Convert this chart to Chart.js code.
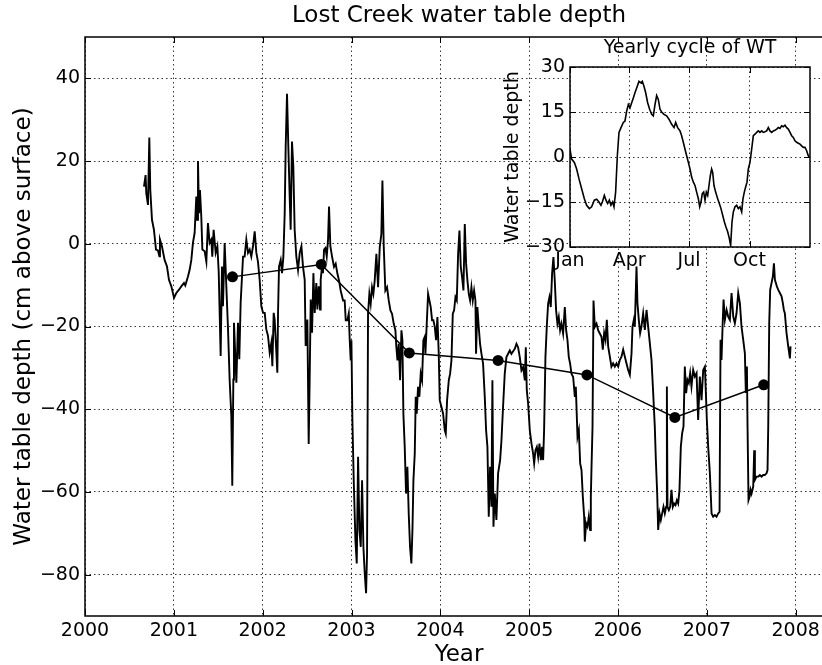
<!DOCTYPE html>
<html>
<head>
<meta charset="utf-8">
<script src="https://cdn.jsdelivr.net/npm/chart.js@4.4.1/dist/chart.umd.min.js"></script>
<style>
  html, body { margin: 0; padding: 0; background: #fff; }
  #wrap { position: relative; width: 822px; height: 665px; overflow: hidden; background: #fff; }
  #main { position: absolute; left: 0; top: 0; }
  #inset { position: absolute; left: 490px; top: 30px; }
</style>
</head>
<body>
<div id="wrap">
  <canvas id="main" width="845" height="665"></canvas>
  <canvas id="inset" width="330" height="250"></canvas>
</div>
<script>
// Observed water table depth, cm above surface, against decimal year
const obsYear = [
  2000.664, 2000.682, 2000.690, 2000.709, 2000.724, 2000.735, 2000.754, 2000.776, 2000.799, 2000.821,
  2000.838, 2000.844, 2000.866, 2000.896, 2000.923, 2000.945, 2000.972, 2001.002, 2001.028, 2001.058,
  2001.084, 2001.114, 2001.129, 2001.159, 2001.178, 2001.197, 2001.215, 2001.234, 2001.253, 2001.261,
  2001.272, 2001.283, 2001.294, 2001.309, 2001.321, 2001.347, 2001.366, 2001.384, 2001.403, 2001.422,
  2001.433, 2001.448, 2001.471, 2001.490, 2001.505, 2001.527, 2001.542, 2001.553, 2001.572, 2001.591,
  2001.610, 2001.628, 2001.647, 2001.658, 2001.670, 2001.677, 2001.704, 2001.722, 2001.737, 2001.752,
  2001.779, 2001.797, 2001.816, 2001.835, 2001.854, 2001.872, 2001.891, 2001.910, 2001.929, 2001.947,
  2001.966, 2001.985, 2002.004, 2002.023, 2002.041, 2002.060, 2002.079, 2002.098, 2002.109, 2002.124,
  2002.135, 2002.154, 2002.165, 2002.173, 2002.184, 2002.203, 2002.218, 2002.233, 2002.248, 2002.259,
  2002.274, 2002.289, 2002.304, 2002.315, 2002.330, 2002.345, 2002.360, 2002.379, 2002.398, 2002.417,
  2002.436, 2002.454, 2002.473, 2002.484, 2002.503, 2002.518, 2002.529, 2002.541, 2002.556, 2002.571,
  2002.586, 2002.604, 2002.616, 2002.631, 2002.646, 2002.653, 2002.668, 2002.679, 2002.691, 2002.706,
  2002.721, 2002.736, 2002.747, 2002.762, 2002.781, 2002.803, 2002.822, 2002.841, 2002.860, 2002.878,
  2002.905, 2002.923, 2002.935, 2002.954, 2002.969, 2002.980, 2002.991, 2002.999, 2003.010, 2003.025,
  2003.044, 2003.059, 2003.074, 2003.089, 2003.104, 2003.119, 2003.134, 2003.149, 2003.164, 2003.175,
  2003.186, 2003.201, 2003.216, 2003.231, 2003.246, 2003.261, 2003.280, 2003.299, 2003.318, 2003.336,
  2003.348, 2003.363, 2003.381, 2003.400, 2003.419, 2003.438, 2003.456, 2003.475, 2003.494, 2003.505,
  2003.517, 2003.532, 2003.547, 2003.562, 2003.573, 2003.584, 2003.599, 2003.614, 2003.629, 2003.644,
  2003.659, 2003.674, 2003.686, 2003.697, 2003.712, 2003.723, 2003.734, 2003.749, 2003.764, 2003.779,
  2003.794, 2003.809, 2003.824, 2003.832, 2003.847, 2003.862, 2003.877, 2003.892, 2003.907, 2003.922,
  2003.937, 2003.952, 2003.967, 2003.982, 2003.993, 2004.012, 2004.031, 2004.050, 2004.061, 2004.076,
  2004.095, 2004.110, 2004.125, 2004.140, 2004.155, 2004.170, 2004.185, 2004.200, 2004.215, 2004.230,
  2004.245, 2004.260, 2004.275, 2004.290, 2004.305, 2004.320, 2004.335, 2004.350, 2004.365, 2004.380,
  2004.395, 2004.402, 2004.417, 2004.432, 2004.447, 2004.463, 2004.481, 2004.500, 2004.515, 2004.530,
  2004.545, 2004.560, 2004.575, 2004.586, 2004.598, 2004.613, 2004.631, 2004.650, 2004.673, 2004.688,
  2004.706, 2004.725, 2004.744, 2004.763, 2004.782, 2004.800, 2004.838, 2004.857, 2004.875, 2004.894,
  2004.913, 2004.932, 2004.951, 2004.962, 2004.973, 2004.988, 2005.007, 2005.026, 2005.044, 2005.056,
  2005.071, 2005.086, 2005.101, 2005.116, 2005.131, 2005.146, 2005.157, 2005.168, 2005.183, 2005.198,
  2005.213, 2005.228, 2005.243, 2005.258, 2005.273, 2005.288, 2005.303, 2005.318, 2005.333, 2005.348,
  2005.363, 2005.382, 2005.401, 2005.416, 2005.431, 2005.446, 2005.461, 2005.476, 2005.495, 2005.514,
  2005.525, 2005.544, 2005.559, 2005.574, 2005.589, 2005.604, 2005.619, 2005.626, 2005.641, 2005.656,
  2005.671, 2005.686, 2005.694, 2005.701, 2005.713, 2005.724, 2005.739, 2005.758, 2005.776, 2005.795,
  2005.814, 2005.829, 2005.844, 2005.859, 2005.874, 2005.889, 2005.908, 2005.926, 2005.945, 2005.964,
  2005.983, 2006.002, 2006.020, 2006.039, 2006.058, 2006.077, 2006.095, 2006.114, 2006.133, 2006.152,
  2006.163, 2006.178, 2006.189, 2006.208, 2006.219, 2006.234, 2006.249, 2006.264, 2006.283, 2006.302,
  2006.321, 2006.339, 2006.358, 2006.377, 2006.396, 2006.414, 2006.426, 2006.441, 2006.452, 2006.467,
  2006.482, 2006.497, 2006.512, 2006.527, 2006.542, 2006.550, 2006.557, 2006.572, 2006.587, 2006.602,
  2006.617, 2006.632, 2006.647, 2006.662, 2006.677, 2006.692, 2006.707, 2006.722, 2006.737, 2006.752,
  2006.767, 2006.782, 2006.797, 2006.812, 2006.827, 2006.846, 2006.865, 2006.884, 2006.902, 2006.921,
  2006.940, 2006.959, 2006.978, 2006.989, 2007.000, 2007.015, 2007.034, 2007.053, 2007.071, 2007.090,
  2007.109, 2007.128, 2007.143, 2007.154, 2007.165, 2007.177, 2007.188, 2007.203, 2007.222, 2007.240,
  2007.259, 2007.278, 2007.297, 2007.315, 2007.334, 2007.353, 2007.372, 2007.390, 2007.409, 2007.428,
  2007.439, 2007.451, 2007.458, 2007.469, 2007.481, 2007.492, 2007.503, 2007.522, 2007.533, 2007.541,
  2007.559, 2007.578, 2007.597, 2007.616, 2007.634, 2007.653, 2007.672, 2007.683, 2007.691, 2007.702,
  2007.713, 2007.728, 2007.743, 2007.755, 2007.766, 2007.777, 2007.788, 2007.803, 2007.822, 2007.841,
  2007.856, 2007.867, 2007.878, 2007.897, 2007.916, 2007.935, 2007.942
];
const obsDepth = [
  13.8, 16.6, 12.2, 9.4, 25.7, 13.0, 5.8, 3.4, -1.4, -1.6,
  -3.0, 1.0, -0.6, -3.9, -5.5, -8.7, -10.3, -13.1, -11.9, -11.1,
  -10.3, -9.5, -10.1, -7.9, -6.3, -3.9, 0.2, 2.6, 11.4, 5.8,
  20.0, 7.4, 13.0, 6.6, -1.4, -1.8, -4.3, 5.0, 0.2, 1.0,
  -3.1, 3.4, -2.2, -0.6, -6.7, -27.1, -5.5, -15.1, 0.2, -10.3,
  -20.7, -32.8, -41.6, -58.5, -32.8, -19.1, -33.6, -19.1, -27.9, -14.3,
  -3.1, -3.1, 1.0, -2.2, -1.4, -3.1, -0.6, 3.0, -2.2, -4.3,
  -8.7, -15.1, -16.7, -16.7, -20.7, -22.3, -26.3, -23.9, -29.6, -16.7,
  -18.3, -26.3, -31.2, -16.7, -5.5, -3.9, -7.1, -3.1, 7.4, 23.4,
  36.3, 23.4, 11.4, 3.4, 24.7, 18.6, 3.4, -3.1, -6.3, -2.2,
  -0.6, -5.5, -8.7, -24.7, -18.3, -48.4, -32.8, -13.5, -21.5, -7.1,
  -16.7, -9.5, -15.9, -10.3, -15.9, -8.7, -5.5, -7.1, -1.4, -1.0,
  -3.1, 1.0, 9.0, -0.6, -3.1, -5.6, -4.8, -7.2, -8.9, -11.3,
  -13.7, -13.7, -18.5, -18.5, -16.9, -23.3, -28.2, -23.3, -42.7, -57.2,
  -71.6, -77.3, -51.5, -69.2, -73.3, -57.2, -73.3, -79.7, -84.5, -74.9,
  -16.9, -12.1, -14.5, -10.5, -12.1, -8.9, -2.4, -10.5, -0.8, 2.4,
  15.3, -0.8, -11.3, -10.5, -13.7, -16.1, -16.9, -19.3, -20.9, -25.0,
  -28.2, -24.2, -33.0, -20.9, -23.3, -41.1, -49.1, -60.4, -53.9, -65.2,
  -73.3, -77.3, -69.2, -57.2, -50.7, -37.0, -41.1, -34.6, -37.0, -31.4,
  -33.0, -23.3, -22.5, -26.6, -19.3, -12.1, -13.7, -15.3, -18.5, -18.5,
  -20.1, -23.3, -17.7, -26.6, -37.8, -39.4, -41.1, -45.1, -45.9, -37.8,
  -33.0, -31.4, -28.2, -16.9, -16.1, -12.9, -13.7, -2.4, 3.2, -5.6,
  -8.1, -11.3, 4.8, -4.8, -8.9, -12.1, -13.7, -10.5, -13.7, -11.3,
  -13.7, -26.6, -15.3, -20.1, -24.2, -26.6, -29.0, -37.0, -45.1, -49.1,
  -66.0, -53.9, -63.6, -33.0, -68.4, -60.4, -66.8, -55.5, -52.3, -47.5,
  -39.4, -31.4, -27.4, -26.6, -25.8, -26.6, -25.4, -24.2, -25.0, -27.4,
  -30.6, -29.8, -33.0, -25.0, -35.4, -38.6, -45.1, -48.3, -50.7, -53.1,
  -49.9, -49.1, -51.5, -48.3, -52.3, -49.1, -52.3, -45.1, -27.4, -20.1,
  -14.5, -12.9, -15.3, -7.2, -3.2, -8.9, -16.1, -19.3, -17.7, -20.9,
  -19.3, -21.7, -15.3, -20.9, -23.3, -27.4, -29.0, -31.4, -32.2, -37.0,
  -34.6, -46.7, -45.1, -53.1, -54.7, -61.2, -66.0, -72.0, -67.6, -68.4,
  -66.0, -69.2, -61.2, -54.7, -44.3, -13.7, -20.1, -19.3, -20.9, -21.7,
  -22.5, -25.6, -21.6, -23.2, -18.4, -24.8, -27.3, -29.7, -28.9, -29.7,
  -28.9, -29.7, -28.1, -27.3, -25.6, -27.3, -28.9, -30.5, -31.7, -26.5,
  -20.0, -18.4, -20.0, -5.5, -14.4, -18.4, -21.6, -20.0, -16.8, -20.8,
  -16.0, -20.0, -24.0, -28.1, -36.1, -44.2, -52.3, -60.4, -69.2, -65.2,
  -66.8, -65.2, -63.6, -65.2, -63.6, -34.5, -63.6, -64.4, -63.6, -59.5,
  -63.6, -62.8, -63.2, -62.0, -62.8, -59.5, -49.1, -45.8, -44.2, -29.7,
  -36.1, -32.9, -33.7, -31.3, -34.5, -30.5, -32.1, -31.3, -42.6, -32.1,
  -37.8, -30.5, -29.7, -36.1, -42.6, -49.1, -55.5, -65.2, -66.0, -65.6,
  -66.0, -65.2, -64.8, -23.2, -28.1, -20.0, -13.5, -18.4, -16.0, -17.6,
  -18.4, -11.9, -17.6, -19.2, -16.8, -11.9, -14.4, -20.0, -23.2, -26.5,
  -36.1, -29.7, -44.2, -62.0, -61.2, -59.5, -60.4, -58.7, -49.9, -57.1,
  -56.3, -56.3, -55.9, -56.3, -55.9, -55.9, -55.5, -54.7, -44.2, -19.2,
  -11.1, -9.5, -7.9, -4.7, -8.7, -9.5, -10.3, -11.1, -11.9, -12.7,
  -14.4, -16.0, -16.8, -21.6, -24.8, -27.7, -24.8
];

// Yearly mean depth, plotted late in each hydrologic year
const meanYear = [2001.66, 2002.66, 2003.65, 2004.65, 2005.65, 2006.64, 2007.64];
const meanDepth = [-8.0, -5.0, -26.4, -28.2, -31.7, -42.0, -34.1];

// Average yearly cycle: day of year and depth
const cycleDay = [
  0, 2.5, 6.6, 10.1, 13.7, 17.7, 21.8, 25.3, 29.4, 32.9,
  37.0, 40.6, 44.1, 47.1, 49.2, 52.2, 54.7, 57.3, 59.8, 62.3,
  64.9, 66.9, 69.4, 72.0, 74.5, 77.6, 81.1, 83.6, 86.2, 88.7,
  91.2, 93.8, 96.3, 98.8, 101.4, 104.9, 108.0, 110.0, 112.5, 115.1,
  118.1, 121.1, 124.2, 126.7, 129.3, 131.8, 134.3, 136.9, 139.4, 142.9,
  147.0, 150.5, 154.6, 158.2, 160.7, 163.7, 167.3, 169.8, 172.3, 174.9,
  177.4, 180.0, 182.5, 185.0, 187.6, 190.1, 192.6, 195.2, 197.2, 199.2,
  201.2, 203.3, 205.3, 207.3, 209.4, 211.4, 213.4, 215.4, 217.0, 219.0,
  221.5, 224.6, 227.1, 229.6, 232.2, 234.7, 237.2, 239.8, 242.3, 244.3,
  246.4, 248.4, 250.9, 253.5, 256.0, 258.5, 261.1, 263.1, 265.1, 267.1,
  269.2, 271.2, 273.7, 276.3, 278.8, 281.3, 283.9, 286.4, 288.9, 291.5,
  294.0, 296.5, 299.1, 301.6, 304.1, 306.7, 309.2, 311.7, 314.3, 316.8,
  319.3, 321.9, 324.4, 327.0, 329.5, 332.0, 334.6, 337.1, 339.6, 342.2,
  344.7, 347.2, 349.8, 352.3, 354.8, 357.4, 359.9, 362.4, 365
];
const cycleDepth = [
  2.6, -0.7, -1.8, -4.0, -7.3, -10.6, -13.9, -16.1, -17.2, -16.6,
  -14.4, -14.1, -15.0, -16.1, -15.0, -12.8, -14.4, -15.5, -14.4, -16.1,
  -15.0, -16.6, -11.7, 0.4, 8.2, 9.8, 11.5, 12.0, 15.3, 17.5,
  16.4, 18.1, 19.7, 21.4, 23.0, 25.2, 24.7, 25.2, 23.6, 21.4,
  18.1, 15.9, 14.2, 13.7, 17.5, 20.5, 19.2, 15.9, 15.0, 14.2,
  13.7, 12.6, 10.9, 9.8, 11.5, 9.8, 8.7, 7.1, 4.9, 2.6,
  0.4, -1.8, -4.0, -6.7, -8.4, -9.5, -11.7, -13.9, -16.6, -15.0,
  -12.2, -11.7, -14.4, -11.7, -12.8, -9.5, -6.2, -4.0, -5.1, -9.5,
  -11.7, -13.9, -15.5, -17.2, -19.4, -21.6, -23.3, -24.9, -27.1, -29.5,
  -21.6, -18.3, -16.6, -16.1, -17.2, -16.6, -18.3, -13.9, -11.7, -10.0,
  -8.4, -4.0, -1.8, 2.6, 7.1, 7.6, 8.2, 8.7, 8.2, 8.7,
  8.2, 8.4, 8.7, 9.8, 8.7, 8.2, 8.7, 8.9, 9.3, 9.8,
  9.5, 10.4, 10.1, 10.6, 9.8, 9.3, 8.2, 7.1, 6.5, 5.4,
  4.9, 4.6, 4.3, 3.7, 3.2, 3.2, 2.1, 0.4, -0.1
];

// Tick values and labels
const yearTicks = [2000, 2001, 2002, 2003, 2004, 2005, 2006, 2007, 2008];
const depthTicks = [-80, -60, -40, -20, 0, 20, 40];
const monthDays = [0, 90, 181, 273];
const monthLabels = ['Jan', 'Apr', 'Jul', 'Oct'];
const cycleTicks = [-30, -15, 0, 15, 30];

Chart.defaults.font.family = "'DejaVu Sans', sans-serif";
Chart.defaults.color = '#000';

const minus = v => (v < 0 ? '\u2212' + Math.abs(v) : String(v));

// Black frame round the plot area plus short inward tick marks on all four sides
const frameTicks = {
  id: 'frameTicks',
  afterDatasetsDraw(chart, args, opts) {
    const { ctx, chartArea: a, scales } = chart;
    const len = opts.len || 6;
    ctx.save();
    ctx.strokeStyle = '#000';
    ctx.lineWidth = 1;
    ctx.beginPath();
    scales.x.ticks.forEach(t => {
      const px = Math.round(scales.x.getPixelForValue(t.value)) + 0.5;
      ctx.moveTo(px, a.bottom); ctx.lineTo(px, a.bottom - len);
      ctx.moveTo(px, a.top); ctx.lineTo(px, a.top + len);
    });
    scales.y.ticks.forEach(t => {
      const py = Math.round(scales.y.getPixelForValue(t.value)) + 0.5;
      ctx.moveTo(a.left, py); ctx.lineTo(a.left + len, py);
      ctx.moveTo(a.right, py); ctx.lineTo(a.right - len, py);
    });
    ctx.stroke();
    ctx.lineWidth = opts.frame || 1.5;
    ctx.strokeRect(a.left, a.top, a.right - a.left, a.bottom - a.top);
    ctx.restore();
  }
};

// White face for the inset axes so the main grid stays behind it
const insetFace = {
  id: 'insetFace',
  beforeDraw(chart) {
    const { ctx, chartArea: a } = chart;
    ctx.save();
    ctx.fillStyle = '#fff';
    ctx.fillRect(a.left, a.top, a.right - a.left, a.bottom - a.top);
    ctx.restore();
  }
};

const dotted = { color: '#000', lineWidth: 0.8, drawTicks: false };
const dotDash = { display: false, dash: [1.5, 3] };

new Chart(document.getElementById('main'), {
  type: 'line',
  data: {
    datasets: [
      {
        label: 'Yearly mean',
        data: meanYear.map((x, i) => ({ x, y: meanDepth[i] })),
        borderColor: '#000',
        borderWidth: 1.5,
        pointRadius: 5.5,
        pointBackgroundColor: '#000',
        pointBorderColor: '#000',
        pointBorderWidth: 0,
        tension: 0
      },
      {
        label: 'Water table depth',
        data: obsYear.map((x, i) => ({ x, y: obsDepth[i] })),
        borderColor: '#000',
        borderWidth: 1.9,
        pointRadius: 0,
        tension: 0
      }
    ]
  },
  options: {
    responsive: false,
    animation: false,
    devicePixelRatio: 1,
    layout: { padding: { left: 0, right: 12, top: 0, bottom: 0 } },
    plugins: {
      legend: { display: false },
      tooltip: { enabled: false },
      title: {
        display: true,
        text: 'Lost Creek water table depth',
        fullSize: false,
        color: '#000',
        font: { size: 23, weight: 'normal' },
        padding: { top: 2, bottom: 7.4 }
      },
      frameTicks: { len: 6, frame: 1.5 }
    },
    scales: {
      x: {
        type: 'linear',
        min: 2000,
        max: 2008.42,
        afterBuildTicks: s => { s.ticks = yearTicks.map(v => ({ value: v })); },
        afterFit: s => { s.height = 49; },
        ticks: { font: { size: 19 }, padding: 4, maxRotation: 0, autoSkip: false, callback: v => String(v) },
        grid: dotted,
        border: dotDash,
        title: { display: true, text: 'Year', font: { size: 23, lineHeight: 1 }, padding: { top: 0, bottom: -2 } }
      },
      y: {
        type: 'linear',
        min: -90,
        max: 50,
        afterBuildTicks: s => { s.ticks = depthTicks.map(v => ({ value: v })); },
        afterFit: s => { s.width = 85; },
        ticks: { font: { size: 19 }, padding: 5, autoSkip: false, callback: v => minus(v) },
        grid: dotted,
        border: dotDash,
        title: { display: true, text: 'Water table depth (cm above surface)', font: { size: 23 }, padding: { top: 10, bottom: 0 } }
      }
    }
  },
  plugins: [frameTicks]
});

new Chart(document.getElementById('inset'), {
  type: 'line',
  data: {
    datasets: [{
      label: 'Yearly cycle',
      data: cycleDay.map((x, i) => ({ x, y: cycleDepth[i] })),
      borderColor: '#000',
      borderWidth: 1.6,
      pointRadius: 0,
      tension: 0
    }]
  },
  options: {
    responsive: false,
    animation: false,
    devicePixelRatio: 1,
    layout: { padding: { left: 0, right: 10, top: 0, bottom: 0 } },
    plugins: {
      legend: { display: false },
      tooltip: { enabled: false },
      title: {
        display: true,
        text: 'Yearly cycle of WT',
        fullSize: false,
        color: '#000',
        font: { size: 19, weight: 'normal' },
        padding: { top: 6.6, bottom: 7.6 }
      },
      frameTicks: { len: 6, frame: 1.5 }
    },
    scales: {
      x: {
        type: 'linear',
        min: 0,
        max: 365,
        afterBuildTicks: s => { s.ticks = monthDays.map(v => ({ value: v })); },
        afterFit: s => { s.height = 33; },
        ticks: { font: { size: 19 }, padding: 3, maxRotation: 0, autoSkip: false,
                 callback: v => monthLabels[monthDays.indexOf(v)] },
        grid: dotted,
        border: dotDash
      },
      y: {
        type: 'linear',
        min: -30,
        max: 30,
        afterBuildTicks: s => { s.ticks = cycleTicks.map(v => ({ value: v })); },
        afterFit: s => { s.width = 80; },
        ticks: { font: { size: 19 }, padding: 5, autoSkip: false, callback: v => minus(v) },
        grid: dotted,
        border: dotDash,
        title: { display: true, text: 'Water table depth', font: { size: 19 }, padding: { top: 12, bottom: 0 } }
      }
    }
  },
  plugins: [insetFace, frameTicks]
});
</script>
</body>
</html>
